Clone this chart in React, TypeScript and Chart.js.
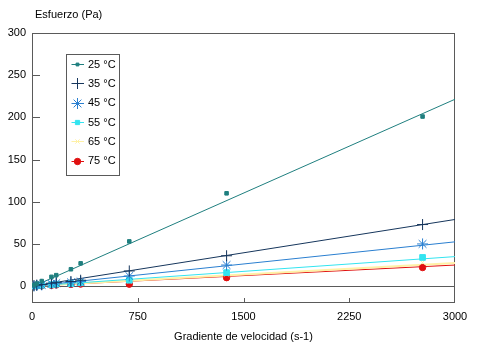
import { useEffect, useRef } from 'react';
import { Chart, registerables } from 'chart.js';
import { drawPoint } from 'chart.js/helpers';

Chart.register(...registerables);

// Shear rates (s-1)
const rates = [14, 34, 69, 138, 172, 276, 345, 690, 1380, 2770];
// Shear stress (Pa) per temperature
const s25 = [1, 3, 6, 11, 13, 20, 27, 53, 110, 201];
const s35 = [0.5, 1.2, 2, 3.5, 4.5, 5.5, 7, 18, 36, 73];
const s45 = [0.3, 0.8, 1.5, 2.8, 3.5, 4.5, 5.5, 12, 25, 50];
const s55 = [0.2, 0.5, 1, 1.8, 2.3, 3, 4, 7, 16, 34];
const s65 = [0.1, 0.4, 0.8, 1.5, 2, 2.6, 3.3, 6, 14, 28];
const s75 = [0.1, 0.3, 0.5, 1, 1.4, 2, 2.4, 2.3, 10, 22];

// Fitted trend lines: values at x = 0 and x = 3000
const trendX = [0, 3000];
const t25 = [-1, 221.5];
const t35 = [0, 79];
const t45 = [0, 52.5];
const t55 = [0, 35];
const t65 = [0, 27.5];
const t75 = [0, 25];

const labels = ['25 °C', '35 °C', '45 °C', '55 °C', '65 °C', '75 °C'];
const xTicks = [0, 750, 1500, 2250, 3000];
const yTicks = [0, 50, 100, 150, 200, 250, 300];

const colors = ['#1f7f7f', '#16365c', '#2a7fd0', '#33e4f0', '#fff1a6', '#e01010'];
const markers = [
  { pointStyle: 'rect', radius: 2.5, borderWidth: 1 },
  { pointStyle: 'cross', radius: 5.5, borderWidth: 1 },
  { pointStyle: 'star', radius: 5.5, borderWidth: 1 },
  { pointStyle: 'rect', radius: 4, borderWidth: 1 },
  { pointStyle: 'crossRot', radius: 3, borderWidth: 1 },
  { pointStyle: 'circle', radius: 3.2, borderWidth: 1 },
];

const seriesY = [s25, s35, s45, s55, s65, s75];
const trendY = [t25, t35, t45, t55, t65, t75];

const FONT = '"Liberation Sans", Arial, Helvetica, sans-serif';

const framePlugin = {
  id: 'frame',
  beforeDatasetsDraw(chart: any) {
    const { ctx, chartArea } = chart;
    const { left, right, top, bottom } = chartArea;
    const xs = chart.scales.x;
    const ys = chart.scales.y;
    ctx.save();
    ctx.strokeStyle = '#5a5a5a';
    ctx.lineWidth = 1;
    ctx.strokeRect(Math.round(left) + 0.5, Math.round(top) + 0.5, Math.round(right - left) - 1, Math.round(bottom - top) - 1);
    // zero line
    const y0 = Math.round(ys.getPixelForValue(0)) + 0.5;
    ctx.beginPath();
    ctx.moveTo(left, y0);
    ctx.lineTo(right, y0);
    // inner tick marks
    yTicks.forEach((v) => {
      const y = Math.round(ys.getPixelForValue(v)) + 0.5;
      ctx.moveTo(left, y);
      ctx.lineTo(left + 8, y);
    });
    xTicks.forEach((v) => {
      const x = Math.min(Math.round(xs.getPixelForValue(v)), Math.round(right) - 1) + 0.5;
      ctx.moveTo(x, bottom);
      ctx.lineTo(x, bottom - 5);
    });
    ctx.stroke();
    ctx.restore();
  },
  afterDraw(chart: any) {
    const { ctx } = chart;
    ctx.save();
    // y axis title
    ctx.fillStyle = '#000';
    ctx.font = `11px ${FONT}`;
    ctx.textBaseline = 'middle';
    ctx.textAlign = 'left';
    ctx.fillText('Esfuerzo (Pa)', 35, 15);
    // legend box
    const bx = 66.5, by = 54.5, bw = 53, bh = 121;
    ctx.fillStyle = '#fff';
    ctx.fillRect(bx, by, bw, bh);
    ctx.strokeStyle = '#5a5a5a';
    ctx.lineWidth = 1;
    ctx.strokeRect(bx, by, bw, bh);
    labels.forEach((lab, i) => {
      const cy = 64 + i * 19.35;
      ctx.strokeStyle = colors[i];
      ctx.fillStyle = colors[i];
      ctx.lineWidth = 1;
      ctx.beginPath();
      ctx.moveTo(71.5, Math.round(cy) + 0.5);
      ctx.lineTo(84, Math.round(cy) + 0.5);
      ctx.stroke();
      const m = markers[i];
      drawPoint(ctx, { ...m, radius: i === 0 ? 2 : i === 3 ? 3 : m.radius, rotation: 0 } as any, 77.5, Math.round(cy) + 0.5);
      ctx.fillStyle = '#000';
      ctx.fillText(lab, 88, cy + 0.5);
    });
    ctx.restore();
  },
};

export default function App() {
  const ref = useRef<HTMLCanvasElement>(null);
  useEffect(() => {
    document.body.style.margin = '0';
    const datasets: any[] = [];
    seriesY.forEach((ys, i) => {
      datasets.push({
        label: labels[i],
        data: rates.map((x, j) => ({ x, y: ys[j] })),
        showLine: false,
        pointStyle: markers[i].pointStyle,
        pointRadius: markers[i].radius,
        pointBorderWidth: markers[i].borderWidth,
        backgroundColor: colors[i],
        borderColor: colors[i],
        order: 0,
      });
    });
    trendY.forEach((ys, i) => {
      datasets.push({
        label: labels[i] + ' trend',
        data: trendX.map((x, j) => ({ x, y: ys[j] })),
        showLine: true,
        pointRadius: 0,
        borderWidth: i === 4 ? 2 : 1,
        borderColor: colors[i],
        backgroundColor: colors[i],
        order: i === 5 ? 2 : 1,
      });
    });
    const chart = new Chart(ref.current!, {
      type: 'scatter',
      data: { datasets },
      options: {
        animation: false,
        responsive: false,
        devicePixelRatio: 1,
        layout: { padding: { top: 33, right: 43, left: 0, bottom: 0 } },
        plugins: { legend: { display: false }, tooltip: { enabled: false } },
        scales: {
          x: {
            type: 'linear',
            min: 0,
            max: 3000,
            grid: { display: false, drawTicks: false },
            border: { display: false },
            afterBuildTicks: (s: any) => { s.ticks = xTicks.map((v) => ({ value: v })); },
            afterFit: (s: any) => { s.height = 48; },
            ticks: {
              color: '#000',
              font: { family: FONT, size: 11 },
              padding: 7,
              maxRotation: 0,
              autoSkip: false,
              callback: (v: any) => String(v),
            },
            title: {
              display: true,
              text: 'Gradiente de velocidad (s-1)',
              color: '#000',
              font: { family: FONT, size: 11 },
              padding: { top: 0, bottom: 7 },
            },
          },
          y: {
            type: 'linear',
            min: -20,
            max: 300,
            grid: { display: false, drawTicks: false },
            border: { display: false },
            afterBuildTicks: (s: any) => { s.ticks = yTicks.map((v) => ({ value: v })); },
            afterFit: (s: any) => { s.width = 32; },
            ticks: {
              color: '#000',
              font: { family: FONT, size: 11 },
              padding: 6,
              autoSkip: false,
              callback: (v: any) => String(v),
            },
          },
        },
      },
      plugins: [framePlugin],
    });
    return () => chart.destroy();
  }, []);
  return <canvas ref={ref} width={498} height={351} style={{ display: 'block', width: 498, height: 351 }} />;
}
